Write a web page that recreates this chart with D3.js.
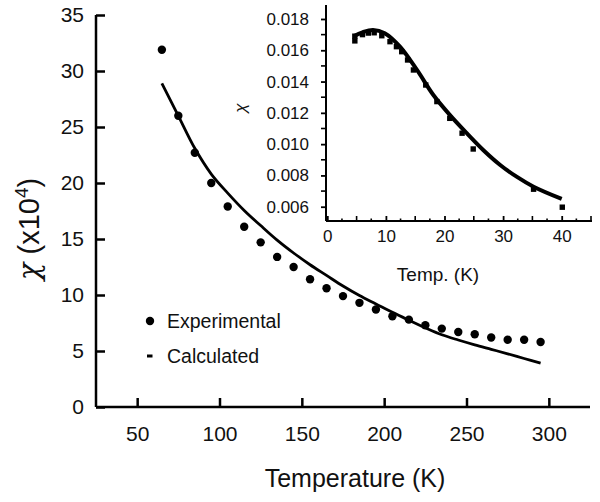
<!DOCTYPE html>
<html>
<head>
<meta charset="utf-8">
<script src="https://cdn.jsdelivr.net/npm/d3@7/dist/d3.min.js"></script>
<style>
  html, body { margin: 0; padding: 0; background: #fff; }
  svg { display: block; }
  text { font-family: "Liberation Sans", Arial, sans-serif; fill: #111; }
</style>
</head>
<body>
<svg id="chart" width="600" height="502"></svg>
<script>
// ---- Main chart data ----
const expT   = [65,75,85,95,105,115,125,135,145,155,165,175,185,195,205,215,225,235,245,255,265,275,285,295];
const expChi = [31.9,26.0,22.7,20.0,17.9,16.1,14.7,13.4,12.5,11.4,10.6,9.9,9.3,8.7,8.1,7.8,7.3,7.0,6.7,6.5,6.2,6.0,6.0,5.8];
const calcT   = [65,75,85,95,105,115,125,135,145,155,165,175,185,195,205,215,225,235,245,255,265,275,285,295];
const calcChi = [28.9,26.0,23.1,20.8,19.1,17.55,16.2,14.9,13.75,12.7,11.75,10.8,9.95,9.2,8.45,7.75,7.07,6.45,5.98,5.55,5.15,4.75,4.33,3.92];
const xTicks = [50,100,150,200,250,300];
const yTicks = [0,5,10,15,20,25,30,35];
const legendLabels = ["Experimental","Calculated"];

// ---- Inset data ----
const insetT   = [4.7,4.7,6,7,8,9.3,10.7,11.8,12.7,13.7,14.7,16.8,18.7,20.9,23,24.9,35.2,40.1];
const insetChi = [0.0169,0.0166,0.0170,0.0171,0.01712,0.01693,0.01655,0.01623,0.01591,0.01538,0.01474,0.01378,0.01272,0.01165,0.0107,0.00969,0.00712,0.00597];
const fitT   = [4.5,6,7.8,9.8,12.4,15.3,18.1,20.9,23.8,26.6,29.5,32.3,35.2,40];
const fitChi = [0.0169,0.01715,0.0173,0.01709,0.01623,0.01474,0.01314,0.01187,0.0107,0.00963,0.00867,0.00792,0.00728,0.0065];
const insetXTicks = [0,10,20,30,40];
const insetYTicks = [0.006,0.008,0.010,0.012,0.014,0.016,0.018];

const svg = d3.select("#chart");

// ---------- Main chart ----------
const x = d3.scaleLinear().domain([25,325]).range([96,590]);
const y = d3.scaleLinear().domain([0,35]).range([407,15]);

const gx = svg.append("g").attr("transform","translate(0,407)")
  .call(d3.axisBottom(x).tickValues(xTicks).tickSize(-9).tickPadding(19).tickFormat(d3.format("d")));
const gy = svg.append("g").attr("transform","translate(96,0)")
  .call(d3.axisLeft(y).tickValues(yTicks).tickSize(-9).tickPadding(12).tickFormat(d3.format("d")));
[gx, gy].forEach(g => {
  g.select(".domain").attr("stroke","#000").attr("stroke-width",2.5);
  g.selectAll(".tick line").attr("stroke","#000").attr("stroke-width",2.5);
  g.selectAll(".tick text").attr("font-size",21).attr("font-family","Liberation Sans, Arial, sans-serif").attr("fill","#111");
});
gx.select(".domain").attr("d","M96,0H590");
gy.select(".domain").attr("d","M0,15V407");

const line = d3.line().x((d,i)=>x(calcT[i])).y(d=>y(d)).curve(d3.curveCatmullRom);
svg.append("path").datum(calcChi).attr("d",line)
  .attr("fill","none").attr("stroke","#000").attr("stroke-width",2.8);

svg.append("g").selectAll("circle").data(expChi).join("circle")
  .attr("cx",(d,i)=>x(expT[i])).attr("cy",d=>y(d)).attr("r",4.2).attr("fill","#000");

// legend
svg.append("circle").attr("cx",150).attr("cy",321).attr("r",4.2).attr("fill","#000");
svg.append("rect").attr("x",147).attr("y",354.5).attr("width",5.5).attr("height",3).attr("fill","#000");
svg.append("text").attr("x",167).attr("y",328).attr("font-size",19.5).text(legendLabels[0]);
svg.append("text").attr("x",167).attr("y",363).attr("font-size",19.5).text(legendLabels[1]);

// axis titles
svg.append("text").attr("x",355).attr("y",487).attr("text-anchor","middle")
  .attr("font-size",25).text("Temperature (K)");
const yt = svg.append("text").attr("transform","translate(39,229) rotate(-90)")
  .attr("text-anchor","middle").attr("font-size",29);
yt.append("tspan").attr("font-family","DejaVu Serif, Liberation Serif, serif").attr("font-style","italic").text("χ");
yt.append("tspan").text(" (x10");
yt.append("tspan").attr("font-size",19).attr("dy",-11).text("4");
yt.append("tspan").attr("dy",11).text(")");

// ---------- Inset ----------
const ix = d3.scaleLinear().domain([0,45]).range([327.3,591]);
const iy = d3.scaleLinear().domain([0.0051,0.0189]).range([220.8,4.9]);

const igx = svg.append("g").attr("transform","translate(0,221)")
  .call(d3.axisBottom(ix).tickValues(insetXTicks).tickSize(-5).tickPadding(9).tickFormat(d3.format("d")));
// x minor ticks
const minorX = d3.range(0,45.1,2.5).filter(v => !insetXTicks.includes(v));
svg.append("g").selectAll("line").data(minorX).join("line")
  .attr("x1",d=>ix(d)).attr("x2",d=>ix(d))
  .attr("y1",221).attr("y2",d=> (d%5===0)?216:218.5)
  .attr("stroke","#000").attr("stroke-width",1.6);

const igy = svg.append("g").attr("transform","translate(326,0)")
  .call(d3.axisLeft(iy).tickValues(insetYTicks).tickSize(5).tickPadding(12).tickFormat(d3.format(".3f")));
const minorY = [0.007,0.009,0.011,0.013,0.015,0.017];
svg.append("g").selectAll("line").data(minorY).join("line")
  .attr("x1",321).attr("x2",326).attr("y1",d=>iy(d)).attr("y2",d=>iy(d))
  .attr("stroke","#000").attr("stroke-width",1.6);

[igx, igy].forEach(g => {
  g.select(".domain").attr("stroke","#000").attr("stroke-width",2);
  g.selectAll(".tick line").attr("stroke","#000").attr("stroke-width",1.8);
  g.selectAll(".tick text").attr("font-size",17).attr("font-family","Liberation Sans, Arial, sans-serif").attr("fill","#111");
});
igx.select(".domain").attr("d","M326,0H592");
igy.select(".domain").attr("d","M0,4.9V221");

svg.append("g").selectAll("rect").data(insetChi).join("rect")
  .attr("x",(d,i)=>ix(insetT[i])-2.7).attr("y",d=>iy(d)-2.7)
  .attr("width",5.4).attr("height",5.4).attr("fill","#000");

const iline = d3.line().x((d,i)=>ix(fitT[i])).y(d=>iy(d)).curve(d3.curveCatmullRom);
svg.append("path").datum(fitChi).attr("d",iline)
  .attr("fill","none").attr("stroke","#000").attr("stroke-width",4);

svg.append("text").attr("x",438).attr("y",281).attr("text-anchor","middle")
  .attr("font-size",19).text("Temp. (K)");
svg.append("text").attr("transform","translate(246,108) rotate(-90)")
  .attr("text-anchor","middle").attr("font-size",17)
  .attr("font-family","DejaVu Serif, Liberation Serif, serif").attr("font-style","italic").text("χ");
</script>
</body>
</html>
